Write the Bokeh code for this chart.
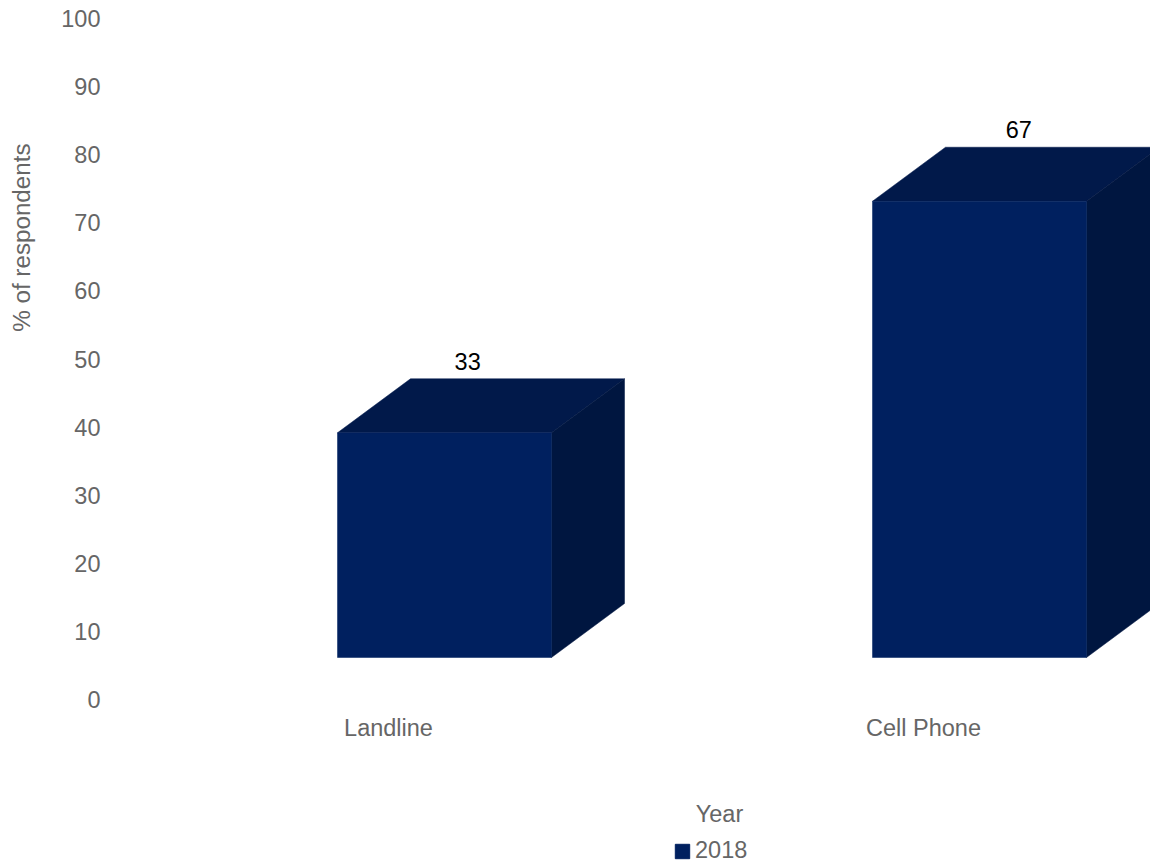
from bokeh.plotting import figure
from bokeh.models import (ColumnDataSource, FixedTicker, Label, Legend, LegendItem, Range1d, Title)
from bokeh.layouts import column
from bokeh.core.properties import value
from bokeh.embed import file_html
from bokeh.resources import INLINE

# ---- data ----
categories = ["Landline", "Cell Phone"]
values = [33, 67]
series_name = "2018"
legend_title = "Year"
y_title = "% of respondents"
y_ticks = [0, 10, 20, 30, 40, 50, 60, 70, 80, 90, 100]

# ---- style ----
FONT = "Liberation Sans"
FS = "23.5px"
GRAY = "#666666"
FRONT = "#00205f"
TOP = "#01194a"
SIDE = "#001640"

W = 1150
H1, H2 = 760, 105
LEFT, TOP_B, BOTTOM = 110, 18, 61
PX_X = 535.0                        # px per category unit
frame_w = W - LEFT
x0 = -278.0 / PX_X
x1 = x0 + frame_w / PX_X
frame_h = H1 - TOP_B - BOTTOM
PX_Y = frame_h / 100.0

# 3D geometry (in data units)
front_shift = 56.0 / PX_X
half_w = 107.0 / PX_X
base = 42.0 / PX_Y
dx = 73.0 / PX_X
dy = 54.0 / PX_Y

p = figure(width=W, height=H1, output_backend="svg", toolbar_location=None,
           x_range=Range1d(x0, x1), y_range=Range1d(0, 100),
           min_border_left=LEFT, min_border_right=0, min_border_top=TOP_B,
           min_border_bottom=BOTTOM)
p.outline_line_color = None
p.grid.visible = False
p.background_fill_color = "white"
p.border_fill_color = "white"

fl, fr, fb, ft = [], [], [], []
top_xs, top_ys, side_xs, side_ys = [], [], [], []
for i, v in enumerate(values):
    c = i + front_shift
    l, r = c - half_w, c + half_w
    b, t = base, base + v
    fl.append(l); fr.append(r); fb.append(b); ft.append(t)
    top_xs.append([l, r, r + dx, l + dx])
    top_ys.append([t, t, t + dy, t + dy])
    side_xs.append([r, r + dx, r + dx, r])
    side_ys.append([b, b + dy, t + dy, t])

p.patches(top_xs, top_ys, fill_color=TOP, line_color=TOP, line_width=0.5)
p.patches(side_xs, side_ys, fill_color=SIDE, line_color=SIDE, line_width=0.5)
p.quad(left=fl, right=fr, bottom=fb, top=ft, fill_color=FRONT,
       line_color=FRONT, line_width=0.5)

# value labels
lab_x = [i + 0.148 + 0.03 * i for i in range(len(values))]
lab_y = [v + base + dy + 2.6 for v in values]
src = ColumnDataSource(dict(x=lab_x, y=lab_y, t=[str(v) for v in values]))
p.text(x="x", y="y", text="t", source=src, text_font=value(FONT),
       text_font_size=FS, text_color="black", text_align="center",
       text_baseline="middle")

# axes
p.yaxis.ticker = FixedTicker(ticks=y_ticks)
p.yaxis.axis_line_color = None
p.yaxis.major_tick_line_color = None
p.yaxis.minor_tick_line_color = None
p.yaxis.major_tick_out = 0
p.yaxis.major_tick_in = 0
p.yaxis.major_label_standoff = 10
p.yaxis.major_label_text_font = FONT
p.yaxis.major_label_text_font_size = FS
p.yaxis.major_label_text_color = GRAY
# blank axis label used as a spacer before the y title
p.yaxis.axis_label = " "
p.yaxis.axis_label_text_font_size = "8px"
p.yaxis.axis_label_standoff = 10

p.xaxis.ticker = FixedTicker(ticks=list(range(len(categories))))
p.xaxis.major_label_overrides = {i: c for i, c in enumerate(categories)}
p.xaxis.axis_line_color = None
p.xaxis.major_tick_line_color = None
p.xaxis.minor_tick_line_color = None
p.xaxis.major_tick_out = 0
p.xaxis.major_tick_in = 0
p.xaxis.major_label_standoff = 15
p.xaxis.major_label_text_font = FONT
p.xaxis.major_label_text_font_size = FS
p.xaxis.major_label_text_color = GRAY

# y-axis title
p.add_layout(Title(text=y_title, align="right", offset=125, standoff=4,
                   vertical_align="bottom",
                   text_font=FONT, text_font_size="24.2px", text_font_style="normal",
                   text_color=GRAY), "left")

# ---- legend strip (frame aligned with the chart frame by the column) ----
p2 = figure(width=W, height=H2, output_backend="svg", toolbar_location=None,
            x_range=Range1d(x0, x1), y_range=Range1d(-1000, -999),
            x_axis_location=None, y_axis_location=None,
            min_border=0, min_border_left=0, min_border_right=0,
            min_border_top=0, min_border_bottom=0)
p2.outline_line_color = None
p2.grid.visible = False
p2.background_fill_color = "white"
p2.border_fill_color = "white"
# same series (lies outside this strip's view; it only supplies the legend swatch)
swatch = p2.quad(left=fl, right=fr, bottom=fb, top=ft, fill_color=FRONT,
                 line_color=FRONT)

p2.add_layout(Label(x=609, y=52, x_units="screen", y_units="screen",
                    text=legend_title, text_align="center", text_baseline="middle",
                    text_font=FONT, text_font_size=FS, text_color=GRAY))

legend = Legend(items=[LegendItem(label=series_name, renderers=[swatch])],
                location=(563, 1), orientation="horizontal",
                glyph_width=18, glyph_height=18, label_standoff=4,
                label_text_font=FONT, label_text_font_size=FS,
                label_text_color=GRAY, padding=0, margin=0, spacing=0,
                border_line_color=None, background_fill_alpha=0)
p2.add_layout(legend)

layout = column(p, p2, spacing=0)
open("out.html", "w").write(file_html(layout, INLINE))
